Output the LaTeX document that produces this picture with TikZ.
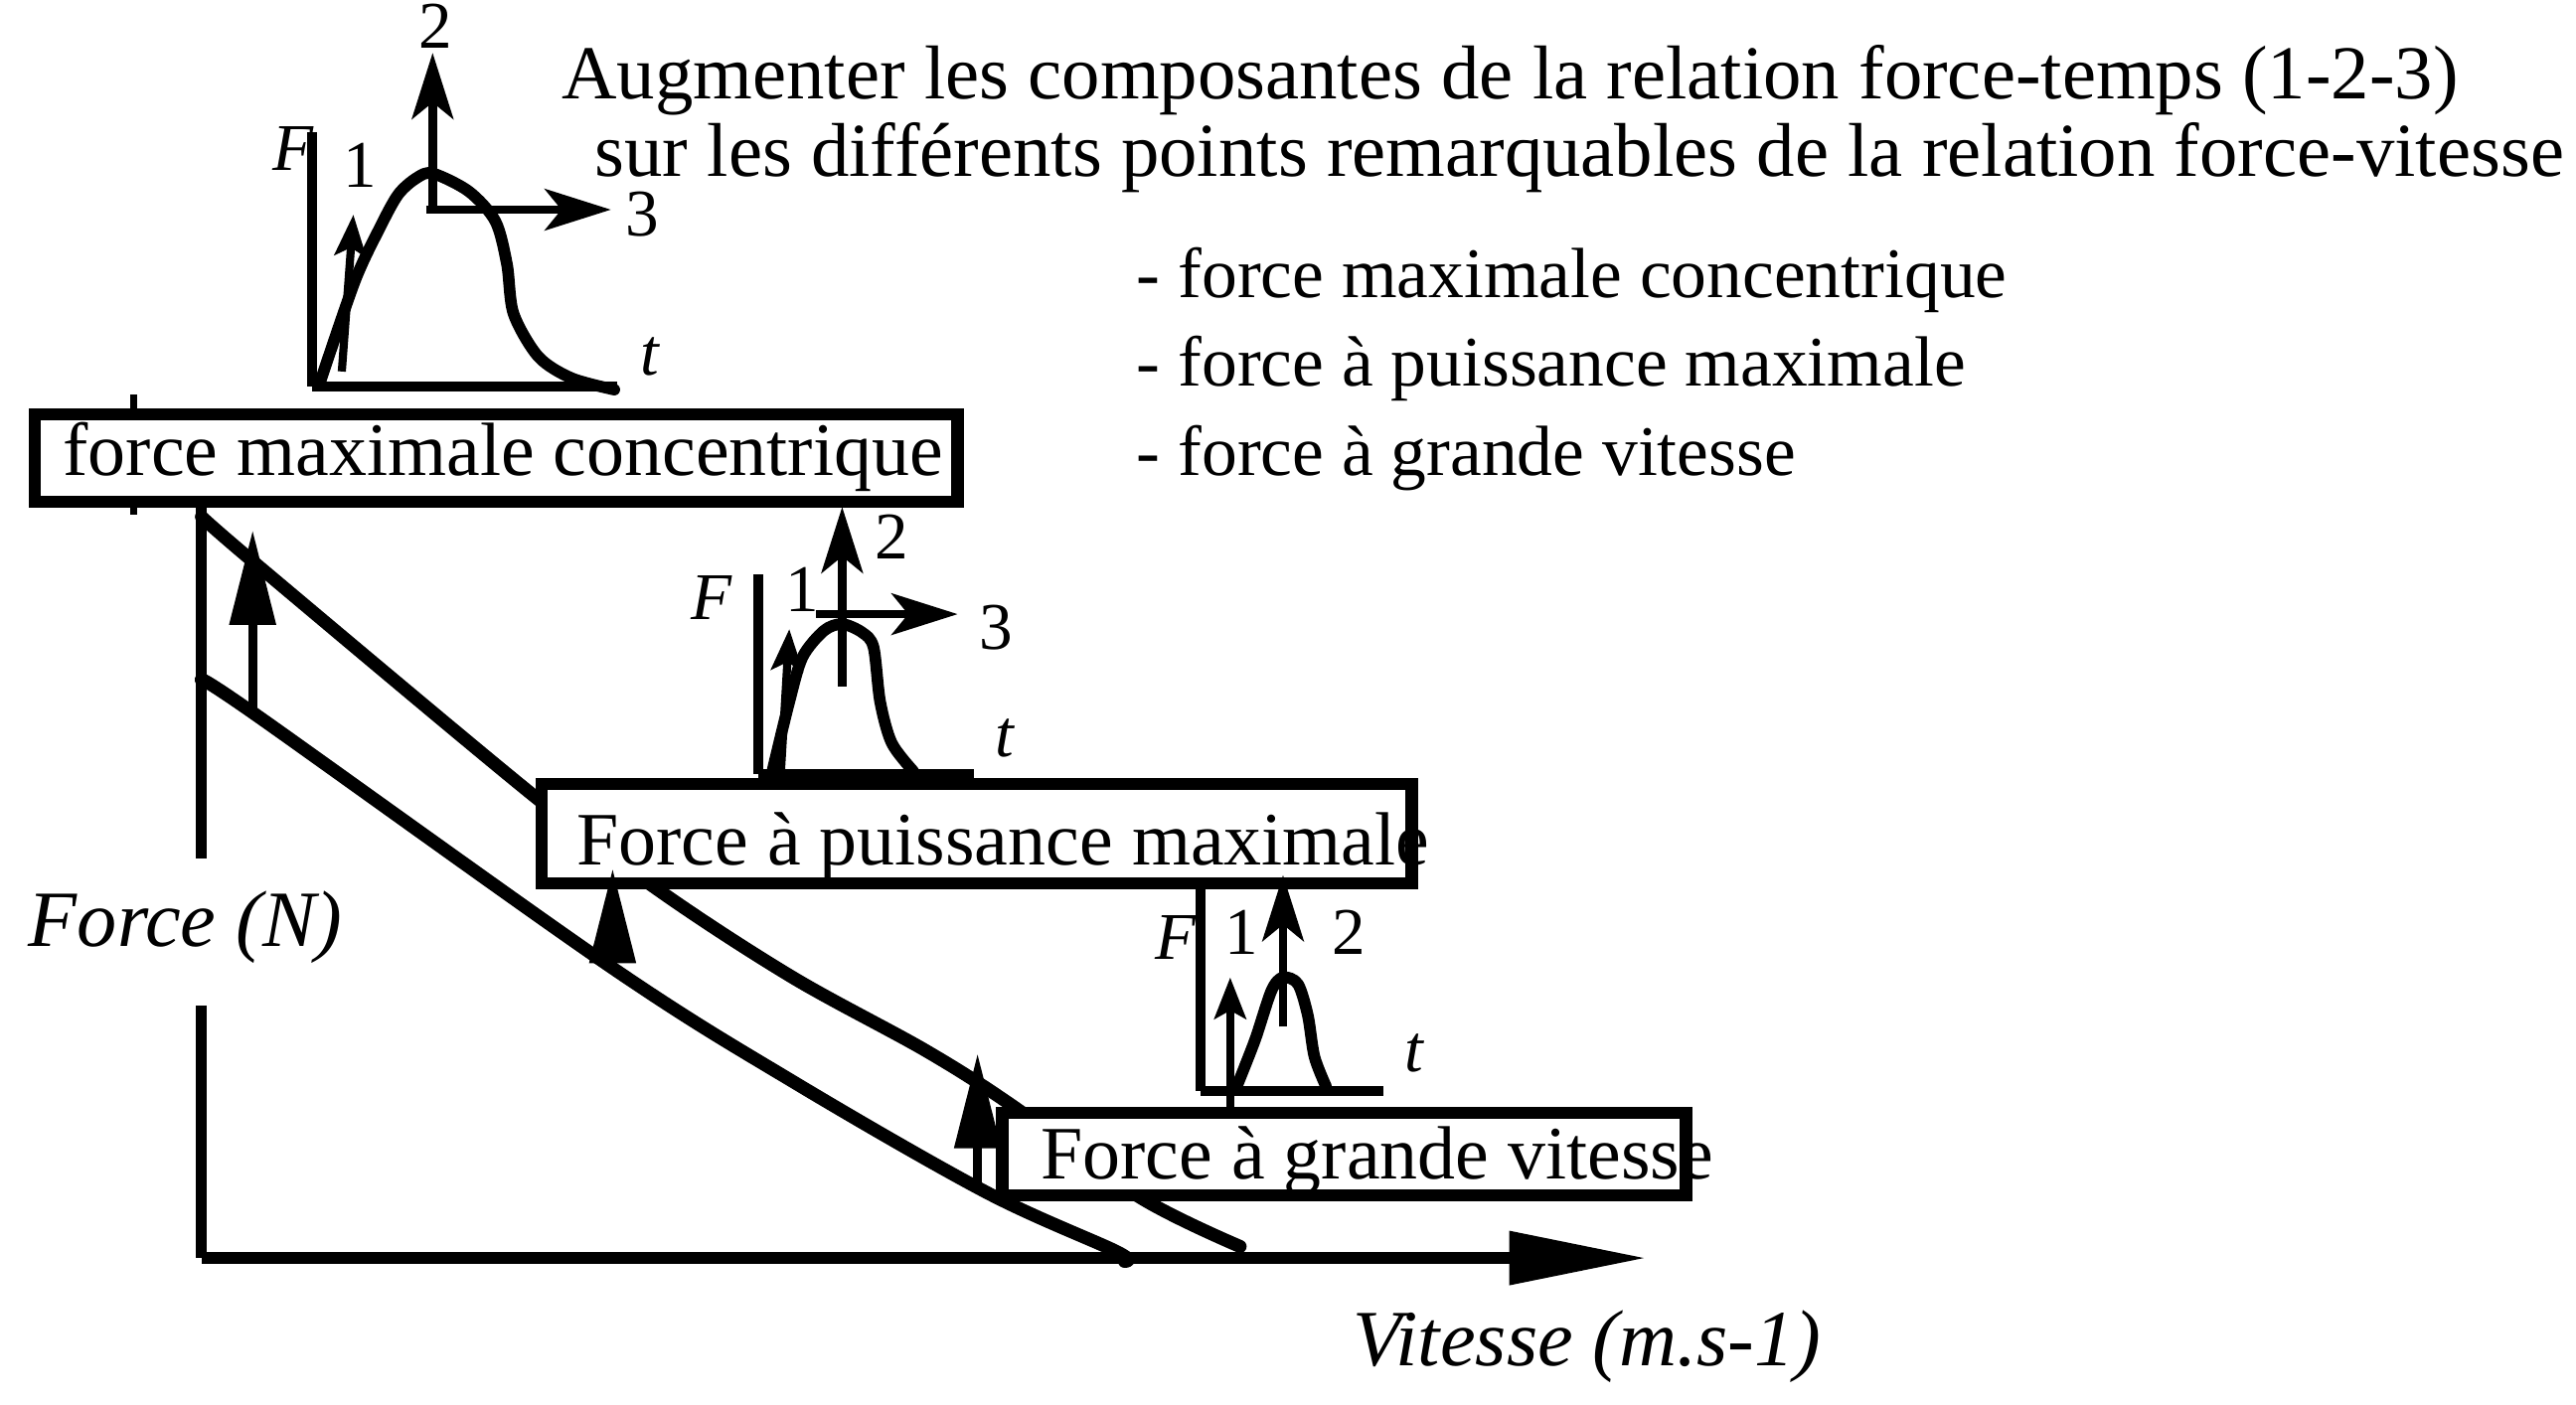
\documentclass[tikz,border=0pt]{standalone}
\usepackage{fontspec}
\setmainfont{Liberation Serif}
\usetikzlibrary{arrows.meta}

\begin{document}
\begin{tikzpicture}[x=0.02cm,y=-0.02cm,
  txt/.style={inner sep=0pt,anchor=base west,font=\fontsize{26}{30}\selectfont},
  hdr/.style={inner sep=0pt,anchor=base west,font=\fontsize{26.3}{30}\selectfont},
  lst/.style={inner sep=0pt,anchor=base west,font=\fontsize{24.5}{29}\selectfont},
  axlbl/.style={inner sep=0pt,anchor=base west,font=\fontsize{27.5}{32}\selectfont\itshape},
  digit/.style={inner sep=0pt,font=\fontsize{23}{27}\selectfont},
  boxframe/.style={draw=black,fill=white,line width=4.2pt,inner sep=0pt},
  curveline/.style={draw=black,line width=4.5pt,line cap=round,line join=round},
  axisline/.style={draw=black,line width=3.6pt},
  insetaxis/.style={draw=black,line width=3.4pt},
  bigarrow/.style={-{Triangle[length=1.15cm,width=0.54cm]},draw=black,line width=3.2pt},
  insetarrow/.style={-{Stealth[length=0.8cm,width=0.5cm,inset=0.2cm]},draw=black,line width=3pt},
  smallarrow/.style={-{Stealth[length=0.5cm,width=0.38cm,inset=0.1cm]},draw=black,line width=2.8pt}]
\useasboundingbox (0,0) rectangle (1560,851);

\draw[curveline] plot[smooth,tension=0.55] coordinates {(122,313) (159,345) (322,481) (400,540) (480,592) (560,636) (612,669) (690,725) (751,755)};
\draw[curveline] plot[smooth,tension=0.55] coordinates {(122,412) (155,433) (369,585) (480,655) (597,722) (676,758) (681,764)};

\coordinate (40) at (122,290);
\coordinate (41) at (122,520);
\coordinate (42) at (122,609);
\coordinate (43) at (122,762);
\coordinate (44) at (997,762);
\coordinate (45) at (81,239);
\coordinate (46) at (81,312);
\path [-,axisline] (40) edge node {} (41);
\path [-,axisline] (42) edge node {} (43);
\path [-,draw=black,line width=2.4pt] (45) edge node {} (46);
\draw [-{Triangle[length=1.66cm,width=0.62cm]},draw=black,line width=4pt] (43) -- (44);

\node[boxframe,minimum width=11.18cm,minimum height=1.06cm] (10) at (300.5,277.5) {};
\node[txt] (11) at (38,288) {force maximale concentrique};
\node[boxframe,minimum width=10.54cm,minimum height=1.2cm] (12) at (591.5,505) {};
\node[txt] (13) at (349,524) {Force à puissance maximale};
\node[boxframe,minimum width=8.28cm,minimum height=1.0cm] (14) at (814,699) {};
\node[txt] (15) at (630,714) {Force à grande vitesse};

\coordinate (47) at (153,432);
\coordinate (48) at (153,321);
\coordinate (49) at (371,586);
\coordinate (50) at (371,526);
\coordinate (51) at (592,722);
\coordinate (52) at (592,638);
\draw [bigarrow] (47) -- (48);
\draw [bigarrow] (49) -- (50);
\draw [bigarrow] (51) -- (52);

\node[hdr] (0) at (340,60) {Augmenter les composantes de la relation force-temps (1-2-3)};
\node[hdr] (1) at (360,107) {sur les différents points remarquables de la relation force-vitesse};
\node[lst] (2) at (688,180) {- force maximale concentrique};
\node[lst] (3) at (688,234) {- force à puissance maximale};
\node[lst] (4) at (688,288) {- force à grande vitesse};
\node[axlbl] (5) at (17,573) {Force (N)};
\node[axlbl] (6) at (819,827) {Vitesse (m.s-1)};

\coordinate (25) at (189,80);
\coordinate (26) at (189,234);
\coordinate (27) at (374,234);
\path [-,insetaxis] (25) edge node {} (26);
\path [-,insetaxis] (26) edge node {} (27);
\draw[curveline,line width=4pt] plot[smooth,tension=0.5] coordinates {(194,231) (215,170) (230,138) (241,118) (252,108) (262,105) (284,116) (300,134) (307,160) (311,190) (326,216) (346,229) (372,236)};
\node[digit] (20) at (178,90) {\textit{F}};
\node[digit] (21) at (394,216) {\textit{t}};
\node[digit] (22) at (218,100) {1};
\node[digit] (23) at (264,16) {2};
\node[digit] (24) at (389,130) {3};
\coordinate (28) at (207,225);
\coordinate (29) at (214,130);
\coordinate (30) at (262,128);
\coordinate (31) at (262,32);
\coordinate (32) at (258,127);
\coordinate (33) at (370,127);
\draw [smallarrow] (28) -- (29);
\draw [insetarrow] (30) -- (31);
\draw [insetarrow] (32) -- (33);

\coordinate (65) at (459,348);
\coordinate (66) at (459,469);
\coordinate (67) at (590,469);
\path [-,insetaxis] (65) edge node {} (66);
\path [-,insetaxis] (66) edge node {} (67);
\draw[curveline,line width=4pt] plot[smooth,tension=0.5] coordinates {(468,466) (478,425) (486,398) (499,382) (510,378) (522,383) (529,392) (533,425) (540,450) (553,467)};
\node[digit] (60) at (431,362) {\textit{F}};
\node[digit] (61) at (609,447) {\textit{t}};
\node[digit] (62) at (486,357) {1};
\node[digit] (63) at (540,325) {2};
\node[digit] (64) at (603,380) {3};
\coordinate (68) at (473,466);
\coordinate (69) at (478,381);
\coordinate (70) at (510,416);
\coordinate (71) at (510,307);
\coordinate (72) at (494,372);
\coordinate (73) at (580,372);
\draw [smallarrow] (68) -- (69);
\draw [insetarrow] (70) -- (71);
\draw [insetarrow] (72) -- (73);

\coordinate (85) at (727,537);
\coordinate (86) at (727,661);
\coordinate (87) at (838,661);
\path [-,insetaxis] (85) edge node {} (86);
\path [-,insetaxis] (86) edge node {} (87);
\draw[curveline,line width=4pt] plot[smooth,tension=0.5] coordinates {(749,658) (760,630) (770,600) (777,592) (786,596) (792,615) (796,640) (803,658)};
\node[digit] (80) at (712,568) {\textit{F}};
\node[digit] (81) at (857,638) {\textit{t}};
\node[digit] (82) at (752,565) {1};
\node[digit] (83) at (817,565) {2};
\coordinate (88) at (745,674);
\coordinate (89) at (745,592);
\coordinate (90) at (777,622);
\coordinate (91) at (777,530);
\draw [smallarrow] (88) -- (89);
\draw [insetarrow] (90) -- (91);
\end{tikzpicture}
\end{document}
